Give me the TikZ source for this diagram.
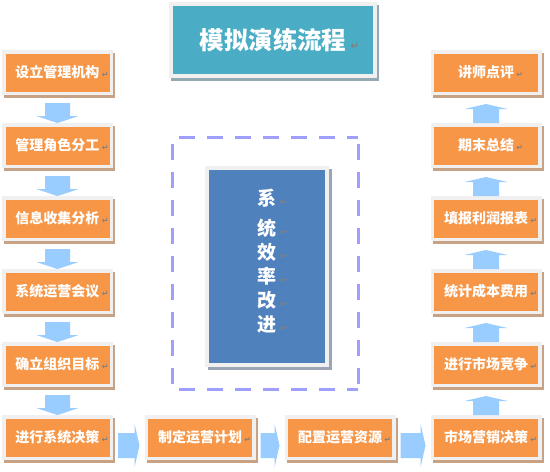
\documentclass[tikz,border=0pt]{standalone}
\usepackage{fontspec}
\newfontfamily\cjk{Noto Sans CJK SC}
\newfontfamily\dejavu{DejaVu Sans}
\usetikzlibrary{calc,shadows}
\definecolor{boxorange}{HTML}{F79646}
\definecolor{framegray}{HTML}{F0F0F0}
\definecolor{orangeshadow}{HTML}{C8A284}
\definecolor{titleteal}{HTML}{4BACC6}
\definecolor{titleshadow}{HTML}{93A9B3}
\definecolor{sysblue}{HTML}{4F81BD}
\definecolor{sysshadow}{HTML}{9BA5B5}
\definecolor{dashviolet}{HTML}{9F9FFF}
\definecolor{arrowblue}{HTML}{99CCFF}
\definecolor{pmgray}{HTML}{808080}
\newcommand\pmark[1][8]{\rlap{\,\dejavu\fontsize{#1}{#1}\selectfont\textcolor{pmgray}{↵}}}
\newcommand\otext[1]{\raisebox{-2pt}{#1\pmark}}
\newcommand\DnArr[2]{\fill[arrowblue] ($(#1.south)+(-12.5,8)$) -- ($(#1.south)+(12.5,8)$) -- ($(#2.north)+(12.5,-7)$) -- ($(#2.north)+(21,-7)$) -- (#2.north) -- ($(#2.north)+(-21,-7)$) -- ($(#2.north)+(-12.5,-7)$) -- cycle;}
\newcommand\UpArr[2]{\fill[arrowblue] ($(#2.north)+(-13,0)$) -- ($(#2.north)+(13,0)$) -- ($(#1.south)+(13,14)$) -- ($(#1.south)+(21.5,14)$) -- ($(#1.south)+(0,9)$) -- ($(#1.south)+(-21.5,14)$) -- ($(#1.south)+(-13,14)$) -- cycle;}
\newcommand\RtArr[2]{\fill[arrowblue] ($(#1.east)+(5,-4.5)$) -- ($(#2.west)+(-10,-4.5)$) -- ($(#2.west)+(-10,-14)$) -- ($(#2.west)+(-5,8)$) -- ($(#2.west)+(-10,30)$) -- ($(#2.west)+(-10,20.5)$) -- ($(#1.east)+(5,20.5)$) -- cycle;}
\tikzset{
  obox/.style={draw=framegray, line width=3.5pt, fill=boxorange, minimum width=107.5pt, minimum height=41.5pt, inner sep=0pt, text=white,
    font=\cjk\bfseries\fontsize{14}{14}\selectfont,
    general shadow={shadow xshift=2pt, shadow yshift=-3pt, fill=orangeshadow, draw=orangeshadow, line width=3.5pt}},
  titlebox/.style={draw=framegray, line width=4pt, fill=titleteal, minimum width=204pt, minimum height=72pt, inner sep=0pt, text=white,
    font=\cjk\bfseries\fontsize{24.5}{24.5}\selectfont,
    general shadow={shadow xshift=2pt, shadow yshift=-3pt, fill=titleshadow, draw=titleshadow, line width=4pt}},
  sysbox/.style={draw=framegray, line width=4pt, fill=sysblue, minimum width=120pt, minimum height=197pt, inner sep=0pt,
    general shadow={shadow xshift=2.5pt, shadow yshift=-3pt, fill=sysshadow, draw=sysshadow, line width=4pt}},
  systext/.style={text=white, align=center, inner sep=0pt, font=\cjk\bfseries\fontsize{19}{24}\selectfont},
  dashbox/.style={minimum width=185.5pt, minimum height=251.5pt, inner sep=0pt},
  dashline/.style={draw=dashviolet, line width=3.5pt, dash pattern=on 16pt off 12pt, dash phase=22pt}
}
\begin{document}
\begin{tikzpicture}[x=1pt,y=-1pt]
\fill[white] (0,0) rectangle (550,472);
\useasboundingbox (0,0) rectangle (550,472);
% title
\node[titlebox] (title) at (273,40) {\raisebox{-2pt}{模拟演练流程\pmark[10]}};
% centre
\node[dashbox] (dash) at (265.5,263.5) {};
\draw[dashline] (dash.north west) -- (dash.north east);
\draw[dashline] (dash.north east) -- (dash.south east);
\draw[dashline] (dash.south west) -- (dash.south east);
\draw[dashline] (dash.north west) -- (dash.south west);
\node[sysbox] (sys) at (267,266.5) {};
\node[systext] (systxt) at ($(sys.center)+(0,-5)$) {系\pmark[10]\\[6pt]统\pmark[10]\\效\pmark[10]\\率\pmark[10]\\改\pmark[10]\\进\pmark[10]};
% left column
\node[obox] (L1) at (57.5,72.5) {\otext{设立管理机构}};
\node[obox] (L2) at (57.5,145.5) {\otext{管理角色分工}};
\node[obox] (L3) at (57.5,218.5) {\otext{信息收集分析}};
\node[obox] (L4) at (57.5,291.5) {\otext{系统运营会议}};
\node[obox] (L5) at (57.5,364.5) {\otext{确立组织目标}};
\node[obox] (L6) at (57.5,437.5) {\otext{进行系统决策}};
% bottom row
\node[obox] (B2) at (200,437.5) {\otext{制定运营计划}};
\node[obox] (B3) at (340,437.5) {\otext{配置运营资源}};
\node[obox] (R6) at (486,437.5) {\otext{市场营销决策}};
% right column
\node[obox] (R5) at (486,364.5) {\otext{进行市场竞争}};
\node[obox] (R4) at (486,291.5) {\otext{统计成本费用}};
\node[obox] (R3) at (486,218.5) {\otext{填报利润报表}};
\node[obox] (R2) at (486,145.5) {\otext{期末总结}};
\node[obox] (R1) at (486,72.5) {\otext{讲师点评}};
% arrows
\DnArr{L1}{L2}
\DnArr{L2}{L3}
\DnArr{L3}{L4}
\DnArr{L4}{L5}
\DnArr{L5}{L6}
\RtArr{L6}{B2}
\RtArr{B2}{B3}
\RtArr{B3}{R6}
\UpArr{R5}{R6}
\UpArr{R4}{R5}
\UpArr{R3}{R4}
\UpArr{R2}{R3}
\UpArr{R1}{R2}
\end{tikzpicture}
\end{document}
